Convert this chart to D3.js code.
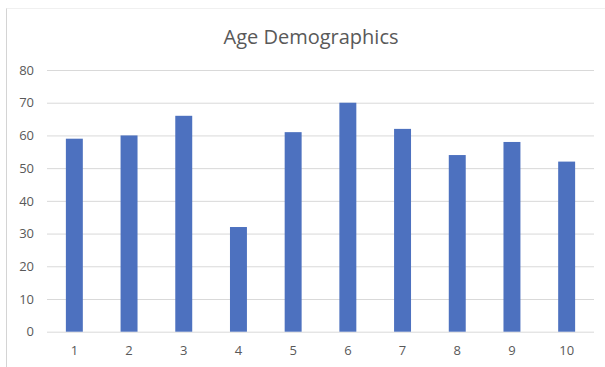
<!DOCTYPE html>
<html>
<head>
<meta charset="utf-8">
<script src="https://cdn.jsdelivr.net/npm/d3@7"></script>
<style>
  html, body { margin: 0; padding: 0; background: #ffffff; }
  svg { display: block; }
  text { font-family: "Open Sans", "Liberation Sans", sans-serif; }
</style>
</head>
<body>
<script>
// Age demographics: one value per group
const categories = ["1", "2", "3", "4", "5", "6", "7", "8", "9", "10"];
const ages = [59, 60, 66, 32, 61, 70, 62, 54, 58, 52];
const yTicks = [0, 10, 20, 30, 40, 50, 60, 70, 80];
const chartTitle = "Age Demographics";

const W = 605, H = 367;
const plot = { left: 47, right: 594, top: 70, bottom: 331.7 };

const svg = d3.select("body").append("svg")
  .attr("width", W).attr("height", H);

// chart frame edges
svg.append("line")
  .attr("x1", 6.5).attr("x2", 6.5).attr("y1", 8).attr("y2", H)
  .attr("stroke", "#d4d4d4").attr("stroke-width", 1);
svg.append("line")
  .attr("x1", 6.5).attr("x2", W).attr("y1", 8.5).attr("y2", 8.5)
  .attr("stroke", "#f0f0f0").attr("stroke-width", 1);

const x = d3.scaleBand()
  .domain(categories)
  .range([plot.left, plot.right])
  .paddingInner(0.69)
  .paddingOuter(0.345);

const y = d3.scaleLinear()
  .domain([0, 80])
  .range([plot.bottom, plot.top]);

// horizontal gridlines with value labels
const yAxis = d3.axisLeft(y)
  .tickValues(yTicks)
  .tickSize(-(plot.right - plot.left))
  .tickPadding(13);

const gy = svg.append("g")
  .attr("transform", `translate(${plot.left},0)`)
  .call(yAxis);
gy.select(".domain").remove();
gy.selectAll(".tick line").attr("stroke", "#d9d9d9").attr("stroke-width", 1);
gy.selectAll(".tick text")
  .attr("fill", "#595959")
  .style("font-size", "13px");

// bars
svg.append("g").selectAll("rect")
  .data(ages)
  .join("rect")
  .attr("x", (d, i) => x(categories[i]))
  .attr("y", d => y(d))
  .attr("width", x.bandwidth())
  .attr("height", d => y(0) - y(d))
  .attr("fill", "#4d71bf");

// category labels
const xAxis = d3.axisBottom(x).tickSize(0).tickPadding(14);
const gx = svg.append("g")
  .attr("transform", `translate(0,${plot.bottom})`)
  .call(xAxis);
gx.select(".domain").remove();
gx.selectAll(".tick text")
  .attr("fill", "#595959")
  .style("font-size", "13px");

// title
svg.append("text")
  .attr("x", 311)
  .attr("y", 44)
  .attr("text-anchor", "middle")
  .attr("fill", "#595959")
  .style("font-size", "20px")
  .text(chartTitle);
</script>
</body>
</html>
